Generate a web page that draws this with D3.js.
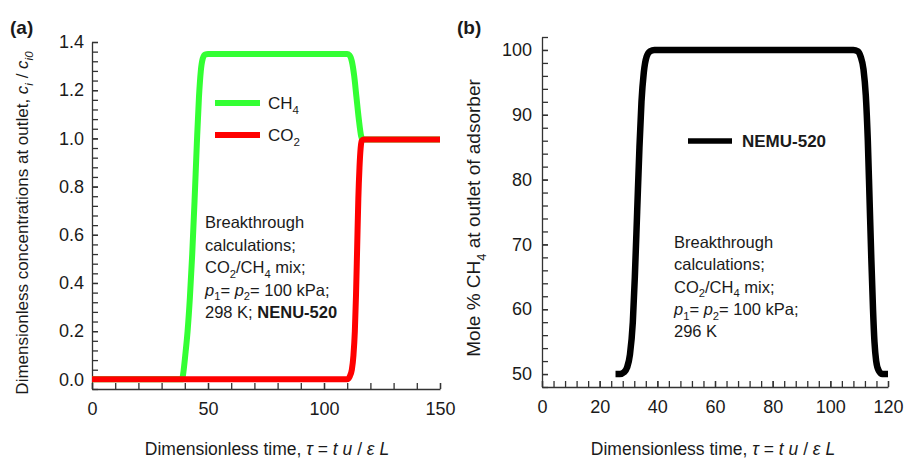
<!DOCTYPE html>
<html>
<head>
<meta charset="utf-8">
<script src="https://cdn.jsdelivr.net/npm/d3@7"></script>
<style>
  body { margin: 0; background: #fff; }
  svg { display: block; font-family: Arial, "Liberation Sans", sans-serif; }
  .axis path, .axis line { stroke: #333; stroke-width: 1.3; }
  .axis text { font-size: 18px; fill: #1a1a1a; font-family: Arial, "Liberation Sans", sans-serif; }
</style>
</head>
<body>
<div id="chart"></div>
<script>
// panel (a): breakthrough, dimensionless concentration vs dimensionless time
var ch4Curve = [[0, 0], [38.8, 0], [39.4, 0.03], [40.2, 0.1], [41.2, 0.2], [42.2, 0.34], [43.2, 0.52],
  [44.2, 0.74], [45.2, 0.98], [46.1, 1.17], [46.9, 1.28], [47.7, 1.33], [48.7, 1.348], [50, 1.35],
  [110, 1.35], [111, 1.345], [112, 1.32], [113, 1.26], [114, 1.17], [115, 1.08], [116, 1.01],
  [116.6, 0.995], [150, 0.995]];
var co2Curve = [[0, 0], [110, 0], [111, 0.01], [112, 0.04], [112.7, 0.1], [113.3, 0.2], [113.8, 0.35],
  [114.3, 0.55], [114.8, 0.75], [115.3, 0.88], [115.8, 0.96], [116.3, 0.99], [117, 0.995], [150, 0.995]];
// panel (b): mole % CH4 at outlet
var ch4PercentCurve = [[25.5, 50], [27, 50], [28.5, 50.3], [29.5, 51], [30.5, 53], [31.5, 58], [32.2, 65],
  [33, 75], [33.8, 85], [34.5, 92], [35.3, 96.5], [36.3, 99], [37.5, 99.8], [39, 100], [108, 100],
  [109.5, 99.8], [110.5, 99], [111.5, 97], [112.3, 93], [113, 86], [113.6, 77], [114.2, 68], [114.8, 60],
  [115.3, 55], [115.9, 52], [116.8, 50.5], [118, 50], [120, 50]];

var xTicksA = [0, 50, 100, 150];
var yTicksA = [0, 0.2, 0.4, 0.6, 0.8, 1.0, 1.2, 1.4];
var xTicksB = [0, 20, 40, 60, 80, 100, 120];
var yTicksB = [50, 60, 70, 80, 90, 100];

var width = 905, height = 458;
var svg = d3.select('#chart').append('svg')
  .attr('width', width)
  .attr('height', height);

var xA = d3.scaleLinear().domain([0, 150]).range([92, 440]);
var yA = d3.scaleLinear().domain([-0.04, 1.4]).range([389, 42]);
var xB = d3.scaleLinear().domain([0, 120]).range([542, 888]);
var yB = d3.scaleLinear().domain([48, 102]).range([387, 37]);

// writes a text with sub-scripts / italics, parts = [text, 'sub it bold'] pairs
function richText(g, x, y, parts, size, anchor) {
  var t = g.append('text')
    .attr('x', x).attr('y', y)
    .attr('font-size', size)
    .attr('fill', '#1a1a1a')
    .attr('text-anchor', anchor || 'start');
  var shifted = false;
  parts.forEach(function(p) {
    var s = t.append('tspan').text(p[0]);
    var flags = (p[1] || '').split(' ');
    var sub = flags.indexOf('sub') >= 0;
    if (sub && !shifted) { s.attr('dy', size * 0.3); shifted = true; }
    else if (!sub && shifted) { s.attr('dy', -size * 0.3); shifted = false; }
    if (sub) s.attr('font-size', size * 0.68);
    if (flags.indexOf('it') >= 0) s.attr('font-style', 'italic');
    if (flags.indexOf('bold') >= 0) s.attr('font-weight', 'bold');
  });
  return t;
}

function drawAxes(x, y, xMajor, yMajor, xStep, yStep, xFmt, yFmt, yPad) {
  var xd = x.domain(), yd = y.domain();
  var y0 = y.range()[0], x0 = x.range()[0];
  var xMinor = d3.range(xd[0], xd[1] + xStep / 2, xStep);
  var yMinor = d3.range(0, Math.round((yd[1] - yd[0]) / yStep) + 1).map(function(i) { return yd[0] + i * yStep; });

  svg.append('g').attr('class', 'axis')
    .attr('transform', 'translate(0,' + y0 + ')')
    .call(d3.axisBottom(x).tickValues(xMinor).tickSize(-6).tickSizeOuter(0).tickFormat(''));
  svg.append('g').attr('class', 'axis')
    .attr('transform', 'translate(0,' + y0 + ')')
    .call(d3.axisBottom(x).tickValues(xMajor).tickSize(-6).tickSizeOuter(0).tickPadding(13).tickFormat(xFmt))
    .select('.domain').remove();

  svg.append('g').attr('class', 'axis')
    .attr('transform', 'translate(' + x0 + ',0)')
    .call(d3.axisLeft(y).tickValues(yMinor).tickSize(-6).tickSizeOuter(0).tickFormat(''));
  svg.append('g').attr('class', 'axis')
    .attr('transform', 'translate(' + x0 + ',0)')
    .call(d3.axisLeft(y).tickValues(yMajor).tickSize(-6).tickSizeOuter(0).tickPadding(yPad).tickFormat(yFmt))
    .select('.domain').remove();
}

drawAxes(xA, yA, xTicksA, yTicksA, 10, 0.04, d3.format('d'), d3.format('.1f'), 8);
drawAxes(xB, yB, xTicksB, yTicksB, 4, 2, d3.format('d'), d3.format('d'), 10);

var lineA = d3.line().x(function(d) { return xA(d[0]); }).y(function(d) { return yA(d[1]); }).curve(d3.curveMonotoneX);
var lineB = d3.line().x(function(d) { return xB(d[0]); }).y(function(d) { return yB(d[1]); }).curve(d3.curveMonotoneX);

svg.append('path').datum(ch4Curve)
  .attr('d', lineA).attr('fill', 'none').attr('stroke', '#33ff33').attr('stroke-width', 6);
svg.append('path').datum(co2Curve)
  .attr('d', lineA).attr('fill', 'none').attr('stroke', '#ff0000').attr('stroke-width', 6);
svg.append('path').datum(ch4PercentCurve)
  .attr('d', lineB).attr('fill', 'none').attr('stroke', '#000').attr('stroke-width', 6.5);

// legend (a)
svg.append('line').attr('x1', 215).attr('x2', 260).attr('y1', 103).attr('y2', 103)
  .attr('stroke', '#33ff33').attr('stroke-width', 6);
svg.append('line').attr('x1', 215).attr('x2', 260).attr('y1', 135).attr('y2', 135)
  .attr('stroke', '#ff0000').attr('stroke-width', 6);
richText(svg, 268, 108.5, [['CH'], ['4', 'sub']], 17);
richText(svg, 268, 140.5, [['CO'], ['2', 'sub']], 17);

// legend (b)
svg.append('line').attr('x1', 688).attr('x2', 732).attr('y1', 141).attr('y2', 141)
  .attr('stroke', '#000').attr('stroke-width', 5.5);
richText(svg, 742, 147, [['NEMU-520', 'bold']], 17);

// notes
var notesA = [
  [['Breakthrough']],
  [['calculations;']],
  [['CO'], ['2', 'sub'], ['/CH'], ['4', 'sub'], [' mix;']],
  [['p', 'it'], ['1', 'sub'], ['= '], ['p', 'it'], ['2', 'sub'], ['= 100 kPa;']],
  [['298 K; '], ['NENU-520', 'bold']]
];
notesA.forEach(function(parts, i) { richText(svg, 205, 228 + i * 22.5, parts, 16.5); });

var notesB = [
  [['Breakthrough']],
  [['calculations;']],
  [['CO'], ['2', 'sub'], ['/CH'], ['4', 'sub'], [' mix;']],
  [['p', 'it'], ['1', 'sub'], ['= '], ['p', 'it'], ['2', 'sub'], ['= 100 kPa;']],
  [['296 K']]
];
notesB.forEach(function(parts, i) { richText(svg, 674, 248 + i * 22.25, parts, 16.5); });

// panel letters
richText(svg, 10, 34, [['(a)', 'bold']], 19);
richText(svg, 457, 34, [['(b)', 'bold']], 19);

// axis titles
var xTitle = [['Dimensionless time, '], ['\u03c4', 'it'], [' = '], ['t', 'it'], [' '], ['u', 'it'], [' / '], ['\u03b5', 'it'], [' '], ['L', 'it']];
richText(svg, 267, 455, xTitle, 17.5, 'middle');
richText(svg, 713, 455, xTitle, 17.5, 'middle');

var gyA = svg.append('g').attr('transform', 'translate(28,223) rotate(-90)');
richText(gyA, 0, 0, [['Dimensionless concentrations at outlet, '], ['c', 'it'], ['i', 'sub it'], [' / '], ['c', 'it'], ['i0', 'sub it']], 17, 'middle');

var gyB = svg.append('g').attr('transform', 'translate(480,218) rotate(-90)');
richText(gyB, 0, 0, [['Mole % CH'], ['4', 'sub'], [' at outlet of adsorber']], 19, 'middle');
</script>
</body>
</html>
